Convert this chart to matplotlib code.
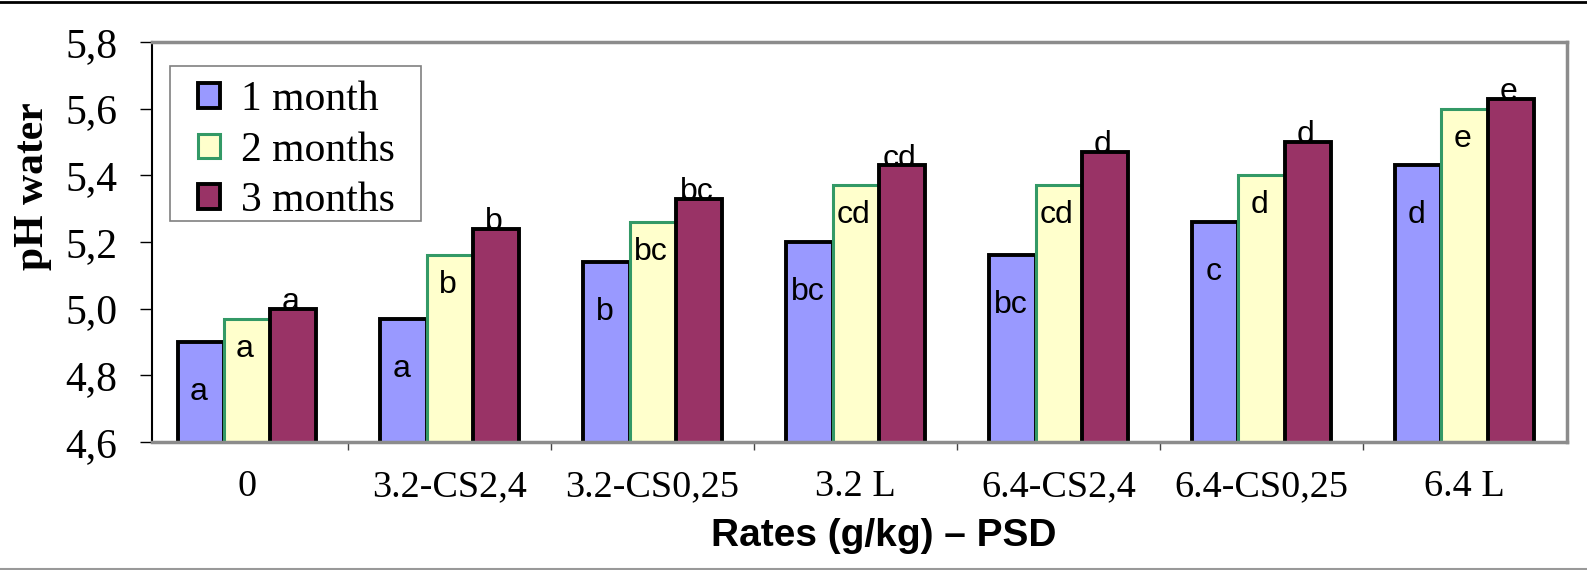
import numpy as np
import matplotlib
matplotlib.use("Agg")
import matplotlib.pyplot as plt
from matplotlib.lines import Line2D
from matplotlib.patches import Rectangle
from matplotlib.ticker import FuncFormatter

# data
rates = ["0", "3.2-CS2,4", "3.2-CS0,25", "3.2 L", "6.4-CS2,4", "6.4-CS0,25", "6.4 L"]
ph_1m = [4.90, 4.97, 5.14, 5.20, 5.16, 5.26, 5.43]
ph_2m = [4.97, 5.16, 5.26, 5.37, 5.37, 5.40, 5.60]
ph_3m = [5.00, 5.24, 5.33, 5.43, 5.47, 5.50, 5.63]
let_1m = ["a", "a", "b", "bc", "bc", "c", "d"]
let_2m = ["a", "b", "bc", "cd", "cd", "d", "e"]
let_3m = ["a", "b", "bc", "cd", "d", "d", "e"]

serif = "Liberation Serif"
sans = "Liberation Sans"

fig = plt.figure(figsize=(15.87, 5.70), dpi=100)
ax = fig.add_axes([0.0958, 0.2246, 0.8916, 0.7017])

x = np.arange(len(rates))
w = 0.227

series = [
    (ph_1m, let_1m, "1 month", "#9999FF", "black", 2.8, -1, -0.15),
    (ph_2m, let_2m, "2 months", "#FFFFCC", "#339966", 2.2, 0, -0.09),
    (ph_3m, let_3m, "3 months", "#993366", "black", 2.8, 1, None),
]

for vals, lets, name, fc, ec, lw, k, off in series:
    xs = x + k * w
    ax.bar(xs, vals, width=w, color=fc, edgecolor=ec, linewidth=lw,
           label=name, zorder=2)
    for xi, v, t in zip(xs, vals, lets):
        if off is None:
            # letters sit on top of the bar, partly hidden by it
            ax.text(xi - 0.01, v - 0.004, t, ha="center", va="baseline",
                    fontsize=23, family=sans, zorder=1)
        else:
            ax.text(xi - 0.01, v + off, t, ha="center", va="center",
                    fontsize=23, family=sans, zorder=3)

ax.set_xlim(-0.466, 6.505)
ax.set_ylim(4.6, 5.8)
ax.set_yticks(np.arange(4.6, 5.81, 0.2))
ax.yaxis.set_major_formatter(FuncFormatter(lambda v, p: f"{v:.1f}".replace(".", ",")))
ax.set_xticks(x)
ax.set_xticklabels(rates)
ax.set_xticks(x[:-1] + 0.5, minor=True)

ax.tick_params(axis="y", direction="out", length=9, width=1, pad=16,
               labelsize=30, color="black")
ax.tick_params(axis="x", which="major", length=0, pad=20, labelsize=27.5)
ax.tick_params(axis="x", which="minor", direction="out", length=6, width=1,
               color="#444444")
for lab in ax.get_xticklabels() + ax.get_yticklabels():
    lab.set_family(serif)

ax.spines["left"].set_color("black")
ax.spines["left"].set_linewidth(1.5)
for s in ["top", "right", "bottom"]:
    ax.spines[s].set_color("#8C8C8C")
    ax.spines[s].set_linewidth(2.5)

# legend box drawn separately so the padding can be wider than tall
ax.add_patch(Rectangle((0.0127, 0.5525), 0.1773, 0.3875, transform=ax.transAxes,
                       facecolor="white", edgecolor="#808080", linewidth=1.2,
                       zorder=4))
leg = ax.legend(loc="upper left", bbox_to_anchor=(0.0325, 0.903), borderaxespad=0,
                prop={"family": serif, "size": 30}, frameon=False,
                handlelength=0.53, handleheight=0.53, handletextpad=0.5,
                labelspacing=0.29, borderpad=0)
leg.set_zorder(5)

fig.text(0.021, 0.674, "pH water", rotation=90, ha="center", va="center",
         fontsize=30, fontweight="bold", family=serif)
fig.text(0.557, 0.06, "Rates (g/kg) \u2013 PSD", ha="center", va="center",
         fontsize=28, fontweight="bold", family=sans)

fig.add_artist(Line2D([0, 1], [0.997, 0.997], color="black", lw=2))
fig.add_artist(Line2D([0, 1], [0.002, 0.002], color="#999999", lw=1.5))

fig.savefig("out.png", dpi=100)
